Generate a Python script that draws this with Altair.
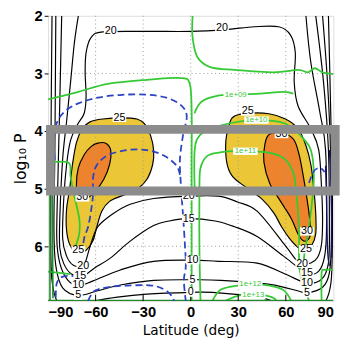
import altair as alt
import pandas as pd

# ---------------- data: (latitude, log10 P) ----------------
X_TICKS = [-90, -60, -30, 0, 30, 60, 90]
Y_TICKS = [2, 3, 4, 5, 6]
GRID_LAT = [-60, -30, 0, 30, 60]
GRID_LOGP = [3, 4, 5, 6]

# filled jets (25 = yellow, 30 = orange)
YEL_L = [(-68.4,3.96),(-63.5,3.84),(-55.5,3.79),(-43.2,3.77),(-33.9,3.79),(-29.0,3.88),(-25.3,4.08),(-23.4,4.33),
         (-24.0,4.58),(-27.7,4.84),(-33.9,5.01),(-43.2,5.12),(-51.2,5.22),(-56.1,5.39),(-59.2,5.66),(-61.6,5.90),
         (-66.0,6.07),(-70.9,6.12),(-75.8,6.00),(-78.3,5.73),(-78.3,5.35),(-76.4,5.01),(-74.6,4.58),(-72.1,4.20)]
YEL_R = [(27.7,3.74),(37.0,3.69),(49.3,3.70),(59.8,3.79),(67.8,3.96),(72.7,4.25),(75.8,4.58),(77.7,5.01),
         (78.9,5.44),(78.9,5.78),(76.4,5.98),(72.1,6.07),(67.8,6.02),(62.3,5.86),(57.3,5.66),(52.4,5.42),
         (45.0,5.18),(35.1,4.98),(26.5,4.79),(22.8,4.55),(22.2,4.16),(24.6,3.86)]
ORA_L = [(-58.6,4.21),(-53.6,4.21),(-50.5,4.33),(-51.2,4.58),(-54.9,4.84),(-60.4,5.05),(-66.0,5.17),(-70.9,5.15),
         (-72.1,4.93),(-70.9,4.64),(-67.2,4.41),(-62.9,4.27)]
ORA_R = [(49.9,4.05),(59.8,4.05),(65.3,4.16),(68.4,4.41),(70.9,4.76),(73.4,5.18),(75.2,5.56),(75.2,5.83),
         (71.5,5.91),(67.8,5.79),(63.5,5.52),(56.7,5.22),(49.9,4.91),(46.2,4.54),(46.8,4.23)]

# black contours
U20 = [(-1.2,5.13),(-23.4,5.17),(-38.2,5.27),(-49.3,5.44),(-58.6,5.66),(-62.9,5.95),(-66.0,6.24),(-67.8,6.35),
       (-74.0,6.33),(-78.3,6.17),(-80.8,5.86),(-80.1,5.18),(-78.3,4.58),(-75.8,4.16),(-71.5,3.89),(-67.2,3.69),
       (-66.0,3.40),(-66.6,2.98),(-66.0,2.64),(-62.9,2.38),(-55.5,2.28),(-27.7,2.27),(0.0,2.27),(21.6,2.24),
       (40.1,2.19),(55.5,2.19),(62.9,2.33),(66.0,2.64),(65.3,3.15),(67.8,3.57),(75.8,3.96),(80.8,4.33),
       (82.6,5.01),(83.2,5.52),(82.6,5.95),(80.1,6.19),(75.8,6.29),(70.3,6.30),(67.8,6.28),(58.6,5.95),
       (41.9,5.39),(29.6,5.23),(17.3,5.13)]
U15 = [(-70.9,2.0),(-73.4,2.47),(-75.8,3.15),(-78.3,3.83),(-80.8,4.49),(-82.6,5.52),(-82.6,6.03),(-80.1,6.30),
       (-75.2,6.48),(-67.8,6.51),(-60.4,6.37),(-50.5,6.20),(-38.2,5.91),(-23.4,5.64),(-13.6,5.56),(-1.2,5.52),
       (15.4,5.56),(27.7,5.66),(41.9,5.83),(58.6,6.17),(73.4,6.47),(80.8,6.43),(84.5,6.17),(85.7,5.69),
       (85.1,4.33),(81.4,3.66),(75.8,2.81),(72.7,2.0)]
U10 = [(-81.4,2.0),(-82.6,3.49),(-83.8,4.84),(-84.5,5.86),(-82.6,6.29),(-77.7,6.58),(-70.9,6.68),(-61.6,6.60),
       (-44.4,6.41),(-23.4,6.26),(1.2,6.24),(17.3,6.26),(41.9,6.29),(60.4,6.49),(73.4,6.64),(82.6,6.57),
       (86.9,6.29),(87.5,5.69),(86.9,4.33),(83.8,3.15),(78.9,2.0)]
U5 = [(-85.1,2.0),(-85.7,4.33),(-86.3,5.69),(-85.1,6.34),(-80.8,6.72),(-70.9,6.85),(-58.6,6.77),(-44.4,6.67),
      (-23.4,6.59),(1.2,6.58),(19.1,6.59),(49.9,6.66),(68.4,6.78),(73.4,6.81),(83.2,6.71),(87.5,6.46),
      (88.8,5.86),(88.2,4.33),(86.3,3.15),(83.2,2.0)]
U0_L = [(-87.5,2.0),(-88.2,4.33),(-88.2,6.20),(-86.9,6.71),(-84.5,6.95)]
U0_C = [(-61.6,6.95),(-46.2,6.88),(-27.7,6.83),(0.0,6.80),(13.6,6.80),(41.9,6.88),(51.2,6.95)]
U0_R = [(85.1,6.95),(88.8,6.54),(89.4,5.18),(88.2,3.49),(86.9,2.0)]

# green contours
G_TOP = [(1.2,2.0),(1.2,2.38),(4.3,2.72),(12.3,2.89),(27.7,2.94),(52.4,2.98),(67.8,2.94),(74.0,2.98),
         (78.3,2.91),(83.2,2.98),(90.0,3.01)]
G_MID = [(-90.0,3.45),(-70.9,3.32),(-52.4,3.18),(-27.7,3.11),(-6.2,3.08),(-0.6,3.18),(0.6,3.66),(0.6,4.50),
         (0.6,6.03),(0.6,6.95)]
G_E9 = [(2.4,3.69),(6.8,3.49),(16.6,3.39),(28.4,3.37),(43.1,3.35),(58.6,3.32),(64.7,3.35)]
G_E10 = [(2.5,5.0),(2.5,4.33),(5.5,4.08),(12.9,3.96),(25.3,3.86),(41.5,3.81),(56.1,3.84),(64.1,3.94),
         (70.3,4.11),(75.8,4.33),(77.7,4.76),(76.4,5.27),(74.0,5.78),(71.5,6.20),(72.1,6.63),(74.6,6.95)]
G_E11 = [(6.2,6.95),(5.5,6.03),(5.5,5.01),(6.2,4.64),(10.5,4.43),(18.5,4.37),(27.7,4.35),(48.1,4.37),
         (58.6,4.47),(64.7,4.72),(66.6,5.06),(67.8,5.44),(68.4,5.86),(68.4,6.29),(69.7,6.55)]
G_E12 = [(13.6,6.95),(19.1,6.75),(29.6,6.68),(37.6,6.66),(49.9,6.68),(58.6,6.76),(63.5,6.95)]
G_E13 = [(21.6,6.95),(30.8,6.85),(41.3,6.83),(51.2,6.88),(54.2,6.95)]
G_LW = [(-90.0,4.55),(-77.1,4.55),(-75.8,4.79),(-73.4,5.13),(-70.3,5.52),(-70.3,5.78),(-72.7,6.00)]
G_LB = [(-90.0,6.44),(-75.8,6.48)]
G_RB = [(82.6,6.95),(82.6,6.46),(84.5,6.41),(90.0,6.41)]
DG_W1 = [(-88.8,4.55),(-88.8,6.95)]
DG_W2 = [(-87.5,4.75),(-86.9,6.90)]
DG_BOT = [(-90.0,6.94),(90.0,6.94)]

# blue dashed contours
B_OUT = [(-85.7,4.50),(-86.3,4.16),(-84.5,3.86),(-79.5,3.66),(-70.9,3.52),(-58.6,3.42),(-43.2,3.37),
         (-27.7,3.37),(-15.4,3.42),(-6.2,3.55),(-2.5,3.74),(-4.9,4.08),(-6.8,4.50),(-6.2,4.93),(-4.9,5.44),
         (-3.7,5.95),(-3.1,6.34),(-4.3,6.59),(-3.1,6.95)]
B_IN = [(-68.4,6.13),(-67.2,5.86),(-64.7,5.66),(-62.9,5.39),(-61.6,5.10),(-61.6,4.81),(-59.2,4.59),
        (-52.4,4.42),(-40.1,4.33),(-27.7,4.33),(-17.3,4.42),(-9.2,4.59),(-6.8,4.76)]
B_BOT = [(-64.7,6.95),(-61.0,6.78),(-52.4,6.71),(-40.1,6.68),(-24.7,6.68),(-16.6,6.75),(-12.3,6.85),(-10.5,6.95)]
B_LW = [(-70.9,6.52),(-80.1,6.52),(-84.5,6.64),(-85.1,6.95)]
B_R = [(72.7,5.08),(77.1,4.72),(81.4,4.64),(84.5,4.71)]
N1 = [(85.1,4.6),(85.7,5.18),(86.3,6.03),(87.5,6.34)]
N2 = [(87.5,4.33),(88.8,5.18),(88.8,6.20)]

# contour labels
LBL_TEXT = ["20","20","25","25","30","30","30","25","25","20","20","20","15","15","15","10","10","10","5","5","5","0"]
LBL_LAT = [-50.5,19.7,-45.0,36.0,-68.4,57.3,73.4,-70.9,72.7,-67.8,70.3,-1.2,-69.7,73.4,-1.2,-70.9,73.4,1.2,-70.9,73.4,1.2,0.0]
LBL_LOGP = [2.26,2.21,3.77,3.66,5.15,4.05,5.74,6.07,6.05,6.35,6.30,5.13,6.51,6.47,5.52,6.68,6.64,6.24,6.85,6.81,6.58,6.80]
GLBL_TEXT = ["1e+09","1e+10","1e+11","1e+12","1e+13"]
GLBL_LAT = [28.4,41.5,34.5,37.6,39.5]
GLBL_LOGP = [3.37,3.81,4.35,6.66,6.85]

BOX_LAT = [-88.5, 91.2]
BOX_LOGP = [3.97, 5.04]

# ---------------- chart ----------------
def lines_df(lines):
    rows = []
    for name, pts in lines.items():
        for i, (la, lp) in enumerate(pts):
            rows.append({"lat": la, "logp": lp, "line": name, "ord": i})
    return pd.DataFrame(rows)

XS = alt.Scale(domain=[-90, 90], nice=False, zero=False)
YS = alt.Scale(domain=[2, 6.95], reverse=True, nice=False, zero=False)
FONT = "DejaVu Sans"
TICKFONT = "Liberation Sans"
XAX = alt.Axis(values=X_TICKS, title="Latitude (deg)", grid=False, ticks=False, domain=False,
               labelPadding=4, titlePadding=4, labelFont=TICKFONT, labelFontSize=15, labelFontWeight="bold",
               titleFont=FONT, titleFontSize=14, titleFontWeight="normal", labelColor="black",
               titleColor="black")
YAX = alt.Axis(values=Y_TICKS, title="log₁₀ P", grid=False, ticks=True, tickSize=4, tickColor="black",
               domain=False, labelPadding=2, titlePadding=6, labelFont=TICKFONT, labelFontSize=15,
               labelFontWeight="bold", titleFont=FONT, titleFontSize=16, titleFontWeight="normal",
               labelColor="black", titleColor="black")

def X(f="lat"):
    return alt.X(f"{f}:Q", scale=XS, axis=XAX)

def Y(f="logp"):
    return alt.Y(f"{f}:Q", scale=YS, axis=YAX)

def line_layer(lines, interp="cardinal", **kw):
    return alt.Chart(lines_df(lines)).mark_line(interpolate=interp, clip=True, **kw).encode(
        x=X(), y=Y(), detail="line:N", order="ord:Q")

YELLOW = "#ebc737"
ORANGE = "#ee832e"
GREEN = "#36c936"
DKGREEN = "#1f8a2a"
BLUE = "#2c43c4"
NAVY = "#141466"

fills_y = line_layer({"yl": YEL_L, "yr": YEL_R}, "cardinal-closed", fill=YELLOW, stroke="black", strokeWidth=1.2)
fills_o = line_layer({"ol": ORA_L, "or": ORA_R}, "cardinal-closed", fill=ORANGE, stroke="black", strokeWidth=1.2)

grid_v = alt.Chart(pd.DataFrame({"lat": GRID_LAT})).mark_rule(color="#9a9a9a", strokeDash=[1, 3], strokeWidth=1).encode(x=X())
grid_h = alt.Chart(pd.DataFrame({"logp": GRID_LOGP})).mark_rule(color="#9a9a9a", strokeDash=[1, 3], strokeWidth=1).encode(y=Y())

black_open = line_layer({"u15": U15, "u10": U10, "u5": U5, "u0l": U0_L, "u0c": U0_C, "u0r": U0_R},
                        color="black", strokeWidth=1.2)
black_closed = line_layer({"u20": U20}, "cardinal-closed", color="black", strokeWidth=1.2)
green = line_layer({"gt": G_TOP, "gm": G_MID, "g9": G_E9, "g10": G_E10, "g11": G_E11, "g12": G_E12,
                    "g13": G_E13, "glw": G_LW, "glb": G_LB, "grb": G_RB}, color=GREEN, strokeWidth=1.8)
dkgreen = line_layer({"d1": DG_W1, "d2": DG_W2, "db": DG_BOT}, "linear", color=DKGREEN, strokeWidth=1.6)
blue = line_layer({"bo": B_OUT, "bi": B_IN, "bb": B_BOT, "blw": B_LW, "br": B_R}, color=BLUE,
                  strokeWidth=1.8, strokeDash=[7, 4])
navy = line_layer({"n1": N1, "n2": N2}, color=NAVY, strokeWidth=1.4)

xticks = alt.Chart(pd.DataFrame({"lat": X_TICKS[1:-1], "y0": [6.95] * 5, "y1": [6.84] * 5})).mark_rule(
    color="black", strokeWidth=1).encode(x=X(), y=Y("y0"), y2="y1:Q")

# white label backgrounds drawn as symbols (sized by label length)
SHAPES = {1: "M-1,-1H1V1H-1Z", 2: "M-1,-0.62H1V0.62H-1Z", 5: "M-1,-0.3H1V0.3H-1Z"}
SIDE = {1: 9, 2: 14, 5: 25}

def label_df(texts, lats, logps):
    d = pd.DataFrame({"t": texts, "lat": lats, "logp": logps})
    d["n"] = d["t"].str.len().astype(str)
    d["side2"] = [SIDE[len(t)] ** 2 for t in texts]
    return d

bg_shape = alt.Shape("n:N", scale=alt.Scale(domain=["1", "2", "5"], range=[SHAPES[1], SHAPES[2], SHAPES[5]]),
                     legend=None)
bg_size = alt.Size("side2:Q", scale=None, legend=None)

lbl = label_df(LBL_TEXT, LBL_LAT, LBL_LOGP)
bg = alt.Chart(lbl).mark_point(filled=True, color="white", opacity=1, strokeWidth=0).encode(
    x=X(), y=Y(), shape=bg_shape, size=bg_size)
text = alt.Chart(lbl).mark_text(font="Liberation Sans", fontSize=11, color="black").encode(x=X(), y=Y(), text="t:N")
glbl = label_df(GLBL_TEXT, GLBL_LAT, GLBL_LOGP)
gbg = alt.Chart(glbl).mark_point(filled=True, color="white", opacity=1, strokeWidth=0).encode(
    x=X(), y=Y(), shape=bg_shape, size=bg_size)
gtext = alt.Chart(glbl).mark_text(font="Liberation Sans", fontSize=8, color=GREEN).encode(x=X(), y=Y(), text="t:N")

box = alt.Chart(pd.DataFrame({"lat": [BOX_LAT[0]], "lat2": [BOX_LAT[1]], "logp": [BOX_LOGP[0]],
                              "logp2": [BOX_LOGP[1]]})).mark_rect(
    fillOpacity=0, stroke="#8c8c8c", strokeWidth=9).encode(x=X(), x2="lat2:Q", y=Y(), y2="logp2:Q")

chart = alt.layer(
    fills_y, fills_o, grid_v, grid_h, black_open, black_closed, green, dkgreen, blue, navy,
    xticks, bg, text, gbg, gtext, box
).properties(
    width=292, height=292,
    padding={"left": 41, "top": 4, "right": 15, "bottom": 43},
    autosize=alt.AutoSizeParams(type="none"),
).configure_view(stroke="black", strokeWidth=1.2).configure(background="white")

chart.save("out.html", embed_options={"renderer": "svg", "actions": False})
